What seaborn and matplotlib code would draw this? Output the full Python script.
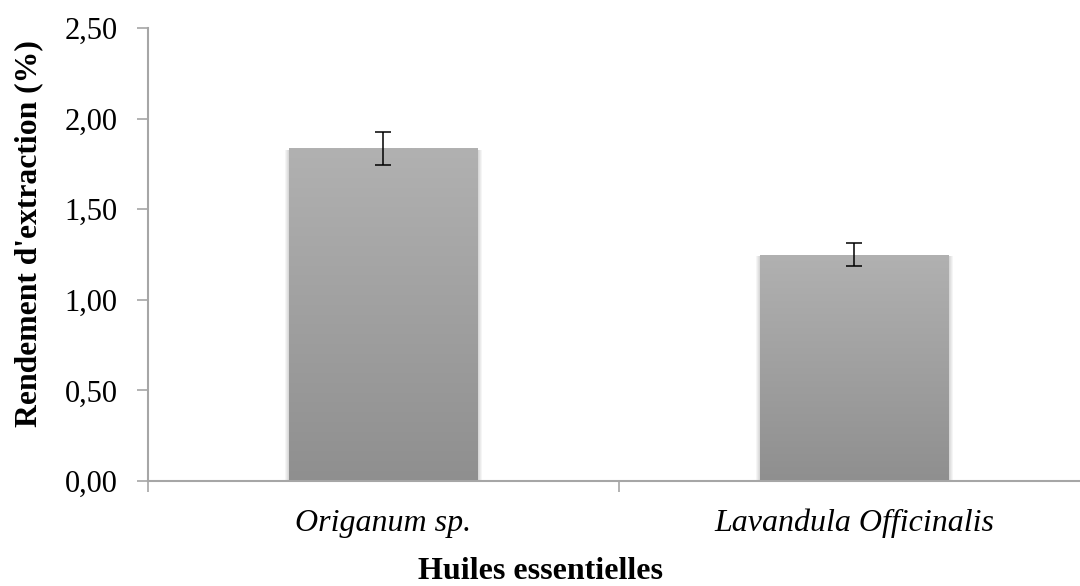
import numpy as np
import pandas as pd
import matplotlib
matplotlib.use("Agg")
import matplotlib.pyplot as plt
import seaborn as sns
from matplotlib.patches import Rectangle

categories = ["Origanum sp.", "Lavandula Officinalis"]
rendement = [1.835, 1.25]
ecart = [0.092, 0.063]
y_ticks = [0.0, 0.5, 1.0, 1.5, 2.0, 2.5]

df = pd.DataFrame({"huile": categories, "rendement": rendement})

sns.set_theme(style="white")
plt.rcParams["font.family"] = ["Liberation Serif", "DejaVu Serif"]
plt.rcParams["text.color"] = "black"
plt.rcParams["axes.labelcolor"] = "black"
plt.rcParams["xtick.color"] = "black"
plt.rcParams["ytick.color"] = "black"

fig = plt.figure(figsize=(10.8, 5.86), dpi=100)
ax = fig.add_axes([148 / 1080, 105 / 586, 932 / 1080, 453 / 586])

sns.barplot(data=df, x="huile", y="rendement", color="#a0a0a0",
            width=0.40, errorbar=None, ax=ax, zorder=2)

# gradient fill + soft side shadow for each bar
grad = np.linspace(0, 1, 256).reshape(-1, 1)
cmap = matplotlib.colors.LinearSegmentedColormap.from_list("g", ["#8f8f8f", "#b1b1b1"])
for bar in ax.patches[:len(categories)]:
    x0, w, h = bar.get_x(), bar.get_width(), bar.get_height()
    for k in range(1, 5):
        d = 0.0022 * k
        sh = Rectangle((x0 - d, 0), w + 2 * d, h - 0.01, facecolor="black",
                       alpha=0.04, edgecolor="none", zorder=1)
        ax.add_patch(sh)
    bar.set_facecolor("none")
    bar.set_edgecolor("none")
    im = ax.imshow(grad, cmap=cmap, aspect="auto", origin="lower",
                   extent=[x0, x0 + w, 0, h], zorder=2)
    rect = Rectangle((x0, 0), w, h, transform=ax.transData)
    im.set_clip_path(rect)

ax.errorbar(range(len(categories)), rendement, yerr=ecart, fmt="none",
            ecolor="black", elinewidth=1.1, capsize=6, capthick=1.1, zorder=3)

ax.set_xlim(-0.5, 1.479)
ax.set_ylim(0, 2.5)
ax.set_yticks(y_ticks)
ax.set_yticklabels([f"{v:.2f}".replace(".", ",") for v in y_ticks], fontsize=22)
ax.set_xticks(range(len(categories)))
ax.set_xticklabels(categories, fontsize=23, style="italic")
ax.set_xticks([-0.5, 0.5], minor=True)
ax.tick_params(axis="x", which="major", bottom=True, length=0, pad=20)
ax.tick_params(axis="x", which="minor", bottom=True, length=8, width=1.2,
               color="#a6a6a6", direction="out")
ax.tick_params(axis="y", left=True, length=8, width=1.2, color="#a6a6a6",
               labelcolor="black", direction="out", pad=14)

for s in ["top", "right"]:
    ax.spines[s].set_visible(False)
for s in ["left", "bottom"]:
    ax.spines[s].set_color("#a6a6a6")
    ax.spines[s].set_linewidth(1.5)

ax.set_xlabel("")
ax.set_ylabel("")
fig.text(541 / 1080, 7 / 586, "Huiles essentielles", fontsize=23,
         fontweight="bold", ha="center", va="baseline")
fig.text(29 / 1080, 1 - 233.5 / 586, "Rendement d'extraction (%)", fontsize=22.8,
         fontweight="bold", rotation=90, ha="center", va="center")

fig.savefig("out.png", dpi=100)
